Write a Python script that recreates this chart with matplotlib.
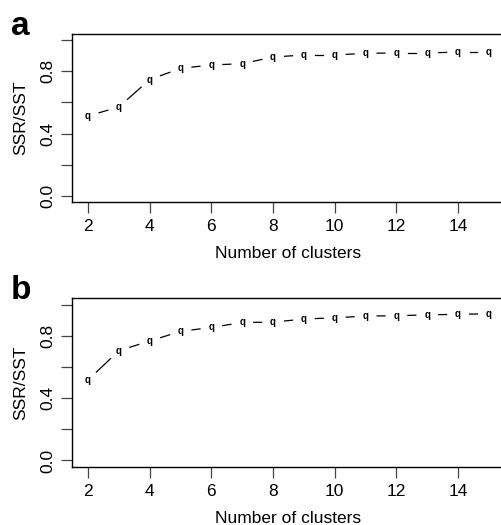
import matplotlib
matplotlib.use("Agg")
import matplotlib.pyplot as plt
import numpy as np

plt.rcParams['font.family'] = ['Liberation Sans', 'DejaVu Sans']

clusters = [2, 3, 4, 5, 6, 7, 8, 9, 10, 11, 12, 13, 14, 15]
ratio_a = [0.513, 0.571, 0.747, 0.819, 0.841, 0.849, 0.892, 0.905, 0.905, 0.916, 0.918, 0.918, 0.924, 0.924]
ratio_b = [0.516, 0.704, 0.766, 0.828, 0.853, 0.885, 0.887, 0.907, 0.915, 0.926, 0.928, 0.934, 0.937, 0.941]
xticks = [2, 4, 6, 8, 10, 12, 14]
yticks = [0.0, 0.2, 0.4, 0.6, 0.8, 1.0]
ylabels = ['0.0', '', '0.4', '', '0.8', '']

W, H = 501, 525
fig = plt.figure(figsize=(W / 100, H / 100), dpi=100)
left, right = 72, 505


def panel(top, bottom, y, letter):
    h = bottom - top
    w = right - left
    ax = fig.add_axes([left / W, 1 - bottom / H, w / W, h / H])
    ax.set_xlim(1.48, 15.52)
    ax.set_ylim(-0.04, 1.04)
    ax.spines['right'].set_visible(False)
    for s in ['left', 'top', 'bottom']:
        ax.spines[s].set_linewidth(1.0)
    ax.set_xticks(xticks)
    ax.set_yticks(yticks)
    ax.set_yticklabels(ylabels, rotation=90, va='center')
    ax.tick_params(length=7.7, width=0.9, color='#444444', labelsize=12.5)
    ax.tick_params(axis='x', pad=4.5)
    ax.tick_params(axis='y', pad=4.6)
    ax.set_xlabel('Number of clusters', fontsize=12.5, va='baseline')
    ax.xaxis.set_label_coords(0.5, -56 / h)
    ax.set_ylabel('SSR/SST', fontsize=12.5, va='center')
    ax.yaxis.set_label_coords((20.5 - left) / w, 0.5)

    # R type="b": segments with a gap round each point
    fig.canvas.draw()
    pts = ax.transData.transform(np.column_stack([clusters, y]))
    gap = 11.5
    for p, q in zip(pts[:-1], pts[1:]):
        d = q - p
        L = np.hypot(*d)
        if L <= 2 * gap:
            continue
        u = d / L
        seg = ax.transData.inverted().transform(np.array([p + u * gap, q - u * gap]))
        ax.plot(seg[:, 0], seg[:, 1], color='black', lw=0.9, clip_on=False)
    for xi, yi in zip(clusters, y):
        ax.text(xi, yi, 'q', fontsize=7, fontweight='bold', ha='center', va='center')

    fig.text(11 / W, 1 - (top + 1) / H, letter, fontsize=24, fontweight='bold',
             va='baseline', ha='left')
    return ax


panel(34, 202, ratio_a, 'a')
panel(298.3, 466.7, ratio_b, 'b')

fig.savefig('out.png', dpi=100)
